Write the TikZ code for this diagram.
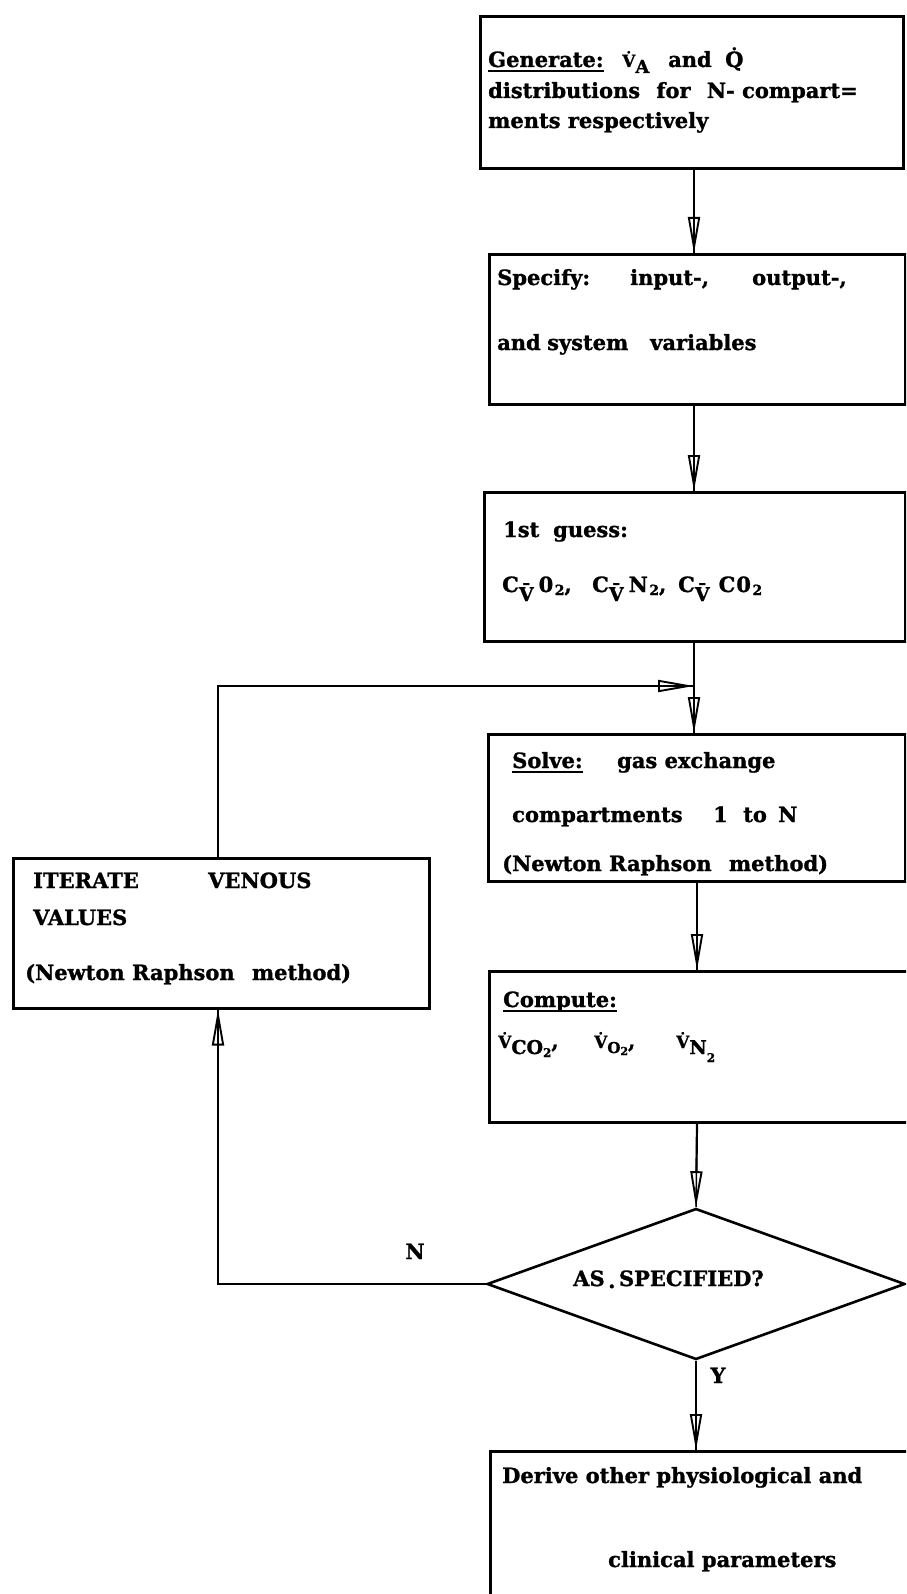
\documentclass[tikz,border=0pt]{standalone}
\usepackage{fontspec}
\setmainfont{DejaVu Serif}[BoldFeatures={FakeBold=1.2}]
\usetikzlibrary{arrows.meta,shapes.geometric}

% text helpers
\newcommand\fs{\fontsize{21}{24}\selectfont\bfseries}
\newcommand\ul[1]{\setbox0\hbox{#1}\rlap{\rule[-5pt]{\wd0}{1.8pt}}\box0}
\newcommand\lowsub[3]{\raisebox{-#1}{\fontsize{#2}{#2}\selectfont #3}}
\newcommand\vdt[1]{{\fontsize{#1}{#1}\selectfont\.{V}}}
\newcommand\cvbar{C\lowsub{9pt}{19}{\={V}}\hspace{5pt}}
\newcommand\two{\hspace{1.5pt}\lowsub{3pt}{14}{2}}
\newcommand\w[2]{\makebox[#1][l]{#2}}

\begin{document}
\begin{tikzpicture}[x=1pt,y=-1pt,
  box/.style={draw, line width=2.6pt, inner sep=0pt, anchor=north west},
  txt/.style={anchor=base west, inner sep=0pt, font=\fs},
  lbl/.style={anchor=base, inner sep=0pt, font=\fs},
  flow/.style={line width=2.2pt,
    -{Triangle[open,length=36pt,width=12pt,line width=1.9pt]},
    postaction={draw,-,line width=1.5pt}},
  decision/.style={draw, diamond, line width=2.6pt, inner sep=0pt}]

\useasboundingbox (0,0) rectangle (906,1594);
\fill[white] (0,0) rectangle (906,1594);
\clip (0,0) rectangle (906,1594);

% column guides
\coordinate (c1) at (694,0);
\coordinate (c2) at (697,0);
\coordinate (lp) at (218,686);

% process boxes
\node[box, minimum width=423pt, minimum height=152pt] (gen) at (479,15) {};
\node[box, minimum width=416pt, minimum height=150pt] (spec) at (488,253) {};
\node[box, minimum width=421pt, minimum height=149pt] (guess) at (483,491) {};
\node[box, minimum width=417pt, minimum height=147pt] (solve) at (487,733) {};
\node[box, minimum width=424pt, minimum height=151pt] (comp) at (488,970) {};
\node[box, minimum width=416pt, minimum height=150pt] (iter) at (12,857) {};
\node[box, minimum width=425pt, minimum height=145pt] (derive) at (489,1450) {};
\node[decision, minimum width=418pt, minimum height=151pt] (dec) at (696,1284) {};

% texts
\node[txt] (t1a) at (488,67) {\w{134pt}{\ul{Generate:}}\w{46pt}{\vdt{17}\lowsub{6pt}{18}{A}}\w{57pt}{and}\.{Q}};
\node[txt] (t1b) at (488,98) {distributions\hspace{9pt} for\hspace{9pt} N- compart=};
\node[txt] (t1c) at (488,128) {ments respectively};

\node[txt] (t2a) at (497,285) {\w{133pt}{Specify:}\w{122pt}{input-,}output-,};
\node[txt] (t2b) at (497,350) {\w{50pt}{and}\w{103pt}{system}variables};

\node[txt] (t3a) at (503,537) {\w{50pt}{1st}guess:};
\node[txt] (t3b) at (502,592) {\w{90pt}{\cvbar0\two,}\w{86pt}{\cvbar N\two,}\cvbar\hspace{4pt}C\hspace{1pt}0\two};

\node[txt] (t4a) at (512,768) {\w{105pt}{\ul{Solve:}}gas exchange};
\node[txt] (t4b) at (512,822) {\w{201pt}{compartments}\w{30pt}{1}\w{35pt}{to}N};
\node[txt] (t4c) at (502,871) {(Newton Raphson\hspace{10pt} method)};

\node[txt] (t5a) at (503,1007) {\ul{Compute:}};
\node[txt] (t5b) at (498,1048) {\w{96pt}{\vdt{17}\lowsub{6pt}{19}{CO\lowsub{3pt}{12}{2}},}\w{82pt}{\vdt{17}\lowsub{5pt}{15}{O\lowsub{2pt}{11}{2}},}\vdt{17}\lowsub{6pt}{19}{N\lowsub{8pt}{12}{2}}};

\node[txt] (t6a) at (33,888) {\w{175pt}{ITERATE}VENOUS};
\node[txt] (t6b) at (33,925) {VALUES};
\node[txt] (t6c) at (25,980) {(Newton Raphson\hspace{10pt} method)};

\node[txt] (t7) at (573,1286) {AS\,\raisebox{-2pt}{.}\,SPECIFIED?};

\node[txt] (t8a) at (502,1483) {Derive other physiological and};
\node[txt] (t8b) at (608,1567) {clinical parameters};

\node[lbl] (nlab) at (415,1259) {N};
\node[lbl] (ylab) at (718,1383) {Y};

% connectors
\draw[flow] (gen.south -| c1) -- (spec.north -| c1);
\draw[flow] (spec.south -| c1) -- (guess.north -| c1);
\draw[flow] (guess.south -| c1) -- (solve.north -| c1);
\draw[flow] (solve.south -| c2) -- (comp.north -| c2);
\draw[flow] (comp.south -| c2) -- (dec.north);
\draw[flow] (dec.south) -- (derive.north -| dec.south);
\draw[flow] (dec.west) -- (dec.west -| lp) -- (iter.south -| lp);
\draw[flow] (iter.north -| lp) -- (lp) -- (lp -| c1);
\end{tikzpicture}
\end{document}
